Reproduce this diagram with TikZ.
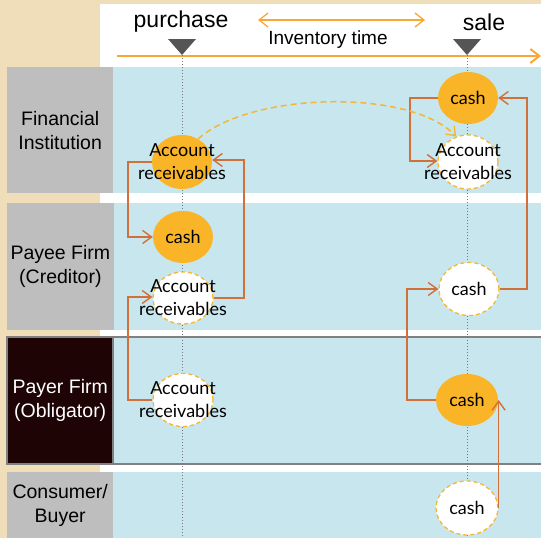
\documentclass[tikz,border=0pt]{standalone}
\usepackage{fontspec}
\setmainfont{Liberation Sans}
\newfontfamily\gill{Lato}
\usetikzlibrary{shapes.geometric,arrows.meta}
\definecolor{beige}{RGB}{240,222,186}
\definecolor{lblue}{RGB}{200,230,238}
\definecolor{lgray}{RGB}{190,190,190}
\definecolor{darklbl}{RGB}{30,4,4}
\definecolor{ofill}{RGB}{249,180,40}
\definecolor{odash}{RGB}{246,182,50}
\definecolor{brown}{RGB}{210,112,58}
\definecolor{oline}{RGB}{248,168,52}
\definecolor{tri}{RGB}{85,85,85}
\tikzset{
  lanebox/.style={fill=lblue, draw=none},
  lblbox/.style={fill=lgray, draw=none, text=black, align=center, font=\fontsize{19.5}{24}\selectfont},
  filled/.style={ellipse, fill=ofill, draw=none, minimum width=60, minimum height=54, inner sep=0},
  hollow/.style={ellipse, fill=white, draw=odash, dashed, dash pattern=on 4pt off 3pt, line width=1.3pt, minimum width=60, minimum height=54, inner sep=0},
  txt/.style={align=center, font=\gill\fontsize{18}{23}\selectfont, inner sep=0},
  flow/.style={draw=brown, line width=1.4pt, -{Straight Barb[length=9pt,width=13pt,line width=1.4pt]}},
  guide/.style={draw=tri!80, line width=1pt, dotted},
  markr/.style={fill=tri, draw=none},
}
\begin{document}
\begin{tikzpicture}[x=1pt,y=-1pt]
\useasboundingbox (0,0) rectangle (541,538);
% background
\fill[beige] (0,0) rectangle (541,538);
\fill[white] (100,4) rectangle (541,538);
% lanes
\fill[lblue] (113,67) rectangle (541,193);
\fill[lblue] (113,203) rectangle (541,330);
\fill[lblue] (113,337) rectangle (541,464);
\fill[lblue] (113,472) rectangle (541,538);
\node[lblbox, minimum width=106, minimum height=126, anchor=north west] (l1) at (7,67) {Financial\\Institution};
\node[lblbox, minimum width=106, minimum height=127, anchor=north west] (l2) at (7,203) {Payee Firm\\(Creditor)};
\node[lblbox, fill=darklbl, text=white, minimum width=106, minimum height=127, anchor=north west] (l3) at (7,337) {Payer Firm\\(Obligator)};
\node[lblbox, minimum width=106, minimum height=66, anchor=north west] (l4) at (7,472) {Consumer/\\Buyer};
\draw[draw=gray, line width=2.5pt] (7,337) rectangle (545,464);
\draw[draw=gray, line width=2.5pt] (113,337) -- (113,464);
% timeline
\node[font=\fontsize{23}{26}\selectfont] (pur) at (181,22) {purchase};
\node[font=\fontsize{23}{26}\selectfont] (sal) at (484,22) {sale};
\node[font=\fontsize{19}{22}\selectfont] (inv) at (328,40) {Inventory time};
\coordinate (ia) at (258,20);
\coordinate (ib) at (425,20);
\draw[draw=oline, line width=1.3pt, {Straight Barb[length=9pt,width=14pt,line width=1.3pt]}-{Straight Barb[length=9pt,width=14pt,line width=1.3pt]}] (ia) -- (ib);
\coordinate (ta) at (117,56);
\coordinate (tb) at (541,56);
\draw[draw=oline, line width=2.5pt, -{Straight Barb[length=9pt,width=14pt,line width=2pt]}] (ta) -- (tb);
\coordinate (g1) at (182,46);
\coordinate (g1e) at (182,538);
\coordinate (g2) at (467,46);
\coordinate (g2e) at (467,538);
\draw[guide] (g1) -- (g1e);
\draw[guide] (g2) -- (g2e);
\fill[markr] (168,39) -- (196,39) -- (182,55) -- cycle;
\fill[markr] (453,39) -- (481,39) -- (467,55) -- cycle;
% nodes
\node[filled, label={[txt]center:Account\\receivables}] (fiar) at (182,162) {};
\node[filled, minimum height=52, label={[txt]center:cash}] (fic) at (468,98) {};
\node[hollow, label={[txt]center:Account\\receivables}] (fiar2) at (468,162) {};
\node[filled, minimum height=52, label={[txt]center:cash}] (pec) at (183,237) {};
\node[hollow, minimum height=52, label={[txt]center:Account\\receivables}] (pear) at (183,298) {};
\node[hollow, minimum height=53, label={[txt]center:cash}] (pec2) at (469,289) {};
\node[hollow, minimum height=53, label={[txt]center:Account\\receivables}] (paar) at (183,400) {};
\node[filled, minimum width=62, minimum height=52, label={[txt]center:cash}] (pac) at (467,400) {};
\node[hollow, minimum width=62, minimum height=54, label={[txt]center:cash}] (cc) at (467,508) {};
% flows
\draw[flow] (fiar.west) -- (128,162) -- (128,237) -- (pec.west);
\draw[flow] (pear.east) -- (244,298) -- (244,160) -- (fiar.east |- 0,160);
\draw[flow] (paar.west) -- (128,400) -- (128,297) -- (pear.west |- 0,297);
\draw[flow] (pac.west) -- (407,400) -- (407,289) -- (pec2.west);
\draw[flow] (pec2.east) -- (527,289) -- (527,98) -- (fic.east);
\draw[flow] (fic.west) -- (410,98) -- (410,161) -- (fiar2.west |- 0,161);
\draw[flow] (cc.east) -- (cc.east |- pac.east);
\draw[draw=odash, line width=1.5pt, dash pattern=on 6pt off 4pt, -{Straight Barb[length=8pt,width=12pt,line width=1.3pt]}] (fiar.55) .. controls (250,92) and (410,88) .. (fiar2.115);
\end{tikzpicture}
\end{document}
